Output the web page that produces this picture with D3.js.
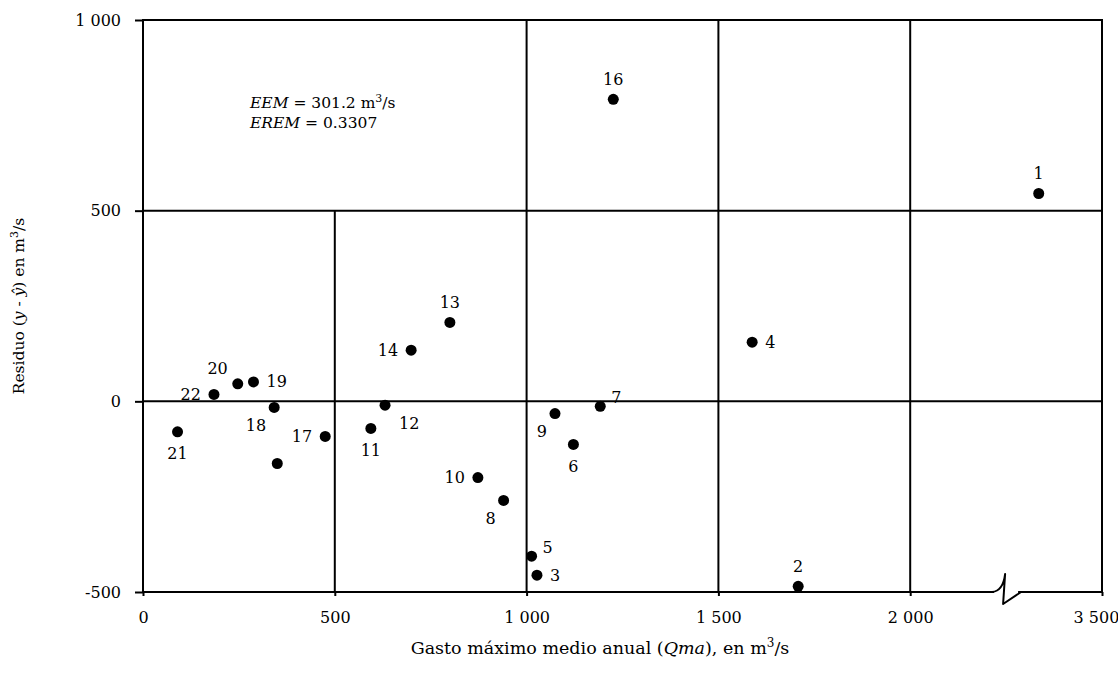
<!DOCTYPE html>
<html>
<head>
<meta charset="utf-8">
<script src="https://cdn.jsdelivr.net/npm/d3@7"></script>
<style>
body { margin: 0; background: #fff; }
text { font-family: "DejaVu Serif", "Liberation Serif", serif; fill: #000; }
</style>
</head>
<body>
<script>
// residuals vs mean annual peak flow
var ids    = [1, 2, 3, 4, 5, 6, 7, 8, 9, 10, 11, 12, 13, 14, 15, 16, 17, 18, 19, 20, 21, 22];
var qma    = [2675, 1708, 1027, 1588, 1013, 1122, 1192, 940, 1074, 873, 594, 631, 800, 699, 350, 1226, 475, 342, 288, 247, 90, 185];
var resid  = [545, -485, -456, 155, -406, -113, -13, -260, -32, -200, -71, -10, 207, 134, -163, 792, -92, -16, 51, 46, -80, 18];
// where each label sits around its dot
var labelAt = ["t", "t", "r", "r", "tr", "b", "tr", "bl", "bl", "l", "b", "br", "t", "l", "", "t", "l", "bl", "r", "tl", "b", "l"];

var xTicks = [0, 500, 1000, 1500, 2000, 3500];
var yTicks = [-500, 0, 500, 1000];
var vGrid = [1000, 1500, 2000];
var hGrid = [0, 500];

var width = 1118, height = 686;
var mLeft = 143, mRight = 1102, mTop = 20, mBottom = 592;
var fs = "16px";

var svg = d3.select("body").append("svg")
    .attr("width", width)
    .attr("height", height);

// broken axis: 0-2250 normal, then squeezed up to 3500
var x = d3.scaleLinear()
    .domain([0, 2250, 3500])
    .range([mLeft, mLeft + (mRight - mLeft) * 2250 / 2500, mRight]);
var y = d3.scaleLinear()
    .domain([-500, 1000])
    .range([mBottom, mTop]);

var fmt = function(d) { return d3.format(",")(d).replace(",", " ").replace("\u2212", "-"); };

// grid
svg.selectAll("line.v").data(vGrid).enter().append("line")
    .attr("x1", function(d) { return x(d); })
    .attr("x2", function(d) { return x(d); })
    .attr("y1", y(-500)).attr("y2", y(1000))
    .attr("stroke", "#000").attr("stroke-width", 2);

svg.append("line")
    .attr("x1", x(500)).attr("x2", x(500))
    .attr("y1", y(-500)).attr("y2", y(500))
    .attr("stroke", "#000").attr("stroke-width", 2);

svg.selectAll("line.h").data(hGrid).enter().append("line")
    .attr("x1", mLeft).attr("x2", mRight)
    .attr("y1", function(d) { return y(d); })
    .attr("y2", function(d) { return y(d); })
    .attr("stroke", "#000").attr("stroke-width", 2);

svg.append("rect")
    .attr("x", mLeft).attr("y", mTop)
    .attr("width", mRight - mLeft).attr("height", mBottom - mTop)
    .attr("fill", "none").attr("stroke", "#000").attr("stroke-width", 2);

// axes
var xAxis = svg.append("g")
    .attr("transform", "translate(0," + mBottom + ")")
    .call(d3.axisBottom(x).tickValues(xTicks).tickFormat(fmt).tickSizeOuter(0).tickSize(4).tickPadding(16));
var yAxis = svg.append("g")
    .attr("transform", "translate(" + mLeft + ",0)")
    .call(d3.axisLeft(y).tickValues(yTicks).tickFormat(fmt).tickSizeOuter(0).tickSize(8).tickPadding(14));

[xAxis, yAxis].forEach(function(a) {
    a.select(".domain").remove();
    a.selectAll(".tick line").attr("stroke", "#000").attr("stroke-width", 2);
    a.selectAll(".tick text").style("font-size", fs).attr("font-family", null);
});
// keep last label inside the page
xAxis.selectAll(".tick text").filter(function(d) { return d === 3500; }).attr("dx", -6);

// axis break symbol
var bx = x(2250);
svg.append("rect")
    .attr("x", bx - 12).attr("y", mBottom - 3)
    .attr("width", 24).attr("height", 6)
    .attr("fill", "#fff");
svg.append("path")
    .attr("d", "M" + (bx - 14) + "," + mBottom +
        " Q" + (bx - 3) + "," + (mBottom - 1) + " " + (bx - 1) + "," + (mBottom - 18) +
        " L" + (bx - 3) + "," + (mBottom + 12) +
        " L" + (bx + 15) + "," + mBottom)
    .attr("fill", "none").attr("stroke", "#000").attr("stroke-width", 2)
    .attr("stroke-linejoin", "round");

// points
var pts = ids.map(function(d, i) {
    return { id: d, x: qma[i], y: resid[i], at: labelAt[i] };
});

svg.selectAll("circle").data(pts).enter().append("circle")
    .attr("cx", function(d) { return x(d.x); })
    .attr("cy", function(d) { return y(d.y); })
    .attr("r", 5.5)
    .attr("fill", "#000");

var off = {
    t:  [0, -20, "middle"],
    b:  [0, 22, "middle"],
    l:  [-13, 0, "end"],
    r:  [13, 0, "start"],
    tr: [11, -9, "start"],
    tl: [-10, -15, "end"],
    br: [14, 18, "start"],
    bl: [-8, 18, "end"]
};

svg.selectAll("text.lbl").data(pts.filter(function(d) { return d.at; })).enter().append("text")
    .attr("class", "lbl")
    .attr("x", function(d) { return x(d.x) + off[d.at][0]; })
    .attr("y", function(d) { return y(d.y) + off[d.at][1]; })
    .attr("dy", "0.35em")
    .attr("text-anchor", function(d) { return off[d.at][2]; })
    .style("font-size", fs)
    .text(function(d) { return d.id; });

// stats box
var t1 = svg.append("text").attr("x", 250).attr("y", 108).style("font-size", "15.5px");
t1.append("tspan").style("font-style", "italic").text("EEM");
t1.append("tspan").text(" = 301.2 m");
t1.append("tspan").attr("dy", -6).style("font-size", "11px").text("3");
t1.append("tspan").attr("dy", 6).text("/s");

var t2 = svg.append("text").attr("x", 250).attr("y", 128).style("font-size", "15.5px");
t2.append("tspan").style("font-style", "italic").text("EREM");
t2.append("tspan").text(" = 0.3307");

// axis titles
var xt = svg.append("text")
    .attr("x", 600).attr("y", 654)
    .attr("text-anchor", "middle").style("font-size", "17.5px");
xt.append("tspan").text("Gasto máximo medio anual (");
xt.append("tspan").style("font-style", "italic").text("Qma");
xt.append("tspan").text("), en m");
xt.append("tspan").attr("dy", -7).style("font-size", "12px").text("3");
xt.append("tspan").attr("dy", 7).text("/s");

var yt = svg.append("text")
    .attr("transform", "translate(24," + (mTop + mBottom) / 2 + ") rotate(-90)")
    .attr("text-anchor", "middle").style("font-size", "15.5px");
yt.append("tspan").text("Residuo (");
yt.append("tspan").style("font-style", "italic").text("y");
yt.append("tspan").text(" - ");
yt.append("tspan").style("font-style", "italic").text("\u0177");
yt.append("tspan").text(") en m");
yt.append("tspan").attr("dy", -6).style("font-size", "11px").text("3");
yt.append("tspan").attr("dy", 6).text("/s");
</script>
</body>
</html>
